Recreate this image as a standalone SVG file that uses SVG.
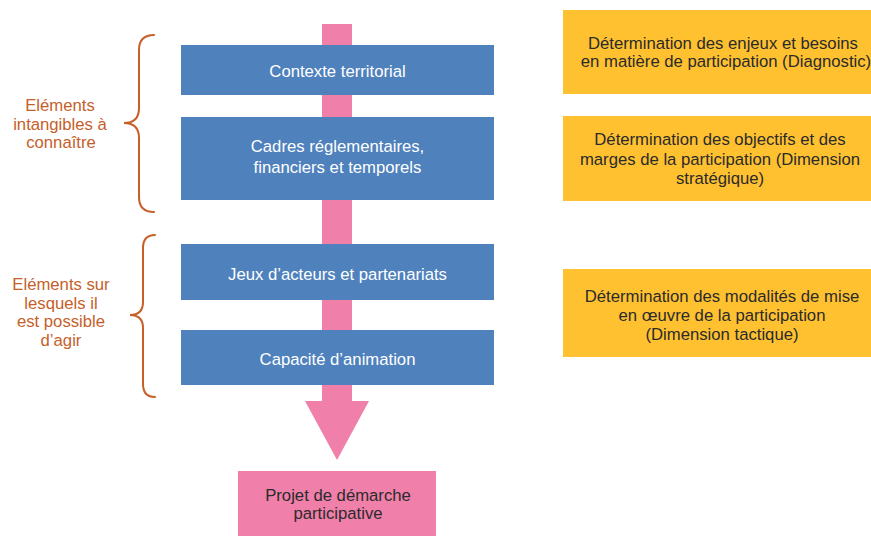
<svg xmlns="http://www.w3.org/2000/svg" width="871" height="536" viewBox="0 0 871 536">
  <style>
    .blue { fill: #4F81BD; }
    .gold { fill: #FFC12F; }
    .pink { fill: #F07FAA; }
    .brace { fill: none; stroke: #C65F28; stroke-width: 2; stroke-linecap: round; }
    text { font-family: "Liberation Sans", Arial, sans-serif; font-size: 16.7px; text-anchor: middle; }
    .wt { fill: #FFFFFF; }
    .dk { fill: #2B2B2B; }
    .lbl { fill: #C5602A; }
  </style>
  <rect width="871" height="536" fill="#FFFFFF"/>

  <g id="connectors">
    <polygon class="pink" points="322,24 352,24 352,401 369,401 337,460 305,401 322,401"/>
  </g>

  <g id="brace-intangibles">
    <path class="brace" d="M154,35 Q139,35 139,50 L139,108 Q139,123 124,123 Q139,123 139,138 L139,197 Q139,212 154,212"/>
    <text class="lbl" x="60" y="111">Eléments</text>
    <text class="lbl" x="60" y="129.5">intangibles à</text>
    <text class="lbl" x="61" y="148">connaître</text>
  </g>

  <g id="brace-agir">
    <path class="brace" d="M155,235 Q143,235 143,248 L143,302 Q143,315 130,315 Q143,315 143,328 L143,384 Q143,397 155,397"/>
    <text class="lbl" x="61" y="290">Eléments sur</text>
    <text class="lbl" x="61" y="308.5">lesquels il</text>
    <text class="lbl" x="61" y="327">est possible</text>
    <text class="lbl" x="61" y="345.5">d’agir</text>
  </g>

  <g id="contexte">
    <rect class="blue" x="181" y="45" width="313" height="50"/>
    <text class="wt" x="337.5" y="77">Contexte territorial</text>
  </g>

  <g id="cadres">
    <rect class="blue" x="181" y="117" width="313" height="83"/>
    <text class="wt" x="337.5" y="152">Cadres réglementaires,</text>
    <text class="wt" x="337.5" y="173">financiers et temporels</text>
  </g>

  <g id="jeux">
    <rect class="blue" x="181" y="244" width="313" height="56"/>
    <text class="wt" x="337.5" y="280">Jeux d’acteurs et partenariats</text>
  </g>

  <g id="capacite">
    <rect class="blue" x="181" y="330" width="313" height="55"/>
    <text class="wt" x="337.5" y="365">Capacité d’animation</text>
  </g>

  <g id="projet">
    <rect class="pink" x="238" y="471" width="198" height="65"/>
    <text class="dk" x="338" y="501">Projet de démarche</text>
    <text class="dk" x="338" y="519">participative</text>
  </g>

  <g id="diagnostic">
    <rect class="gold" x="563" y="10" width="308" height="84"/>
    <text class="dk" x="723" y="48.5">Détermination des enjeux et besoins</text>
    <text class="dk" x="726" y="67">en matière de participation (Diagnostic)</text>
  </g>

  <g id="strategique">
    <rect class="gold" x="563" y="116" width="308" height="85"/>
    <text class="dk" x="720" y="145">Détermination des objectifs et des</text>
    <text class="dk" x="720" y="165">marges de la participation (Dimension</text>
    <text class="dk" x="720" y="184">stratégique)</text>
  </g>

  <g id="tactique">
    <rect class="gold" x="563" y="269" width="308" height="88"/>
    <text class="dk" x="722" y="302">Détermination des modalités de mise</text>
    <text class="dk" x="722" y="321">en œuvre de la participation</text>
    <text class="dk" x="722" y="339.5">(Dimension tactique)</text>
  </g>
</svg>
